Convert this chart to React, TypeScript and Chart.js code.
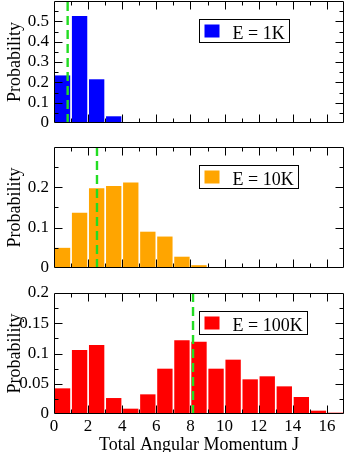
import React, { useEffect, useRef } from 'react';
import { Chart, registerables } from 'chart.js';

Chart.register(...registerables);

// ---- data ----
const angularMomentumJ = [0, 1, 2, 3, 4, 5, 6, 7, 8, 9, 10, 11, 12, 13, 14, 15, 16];
const probE1K = [0.234, 0.526, 0.215, 0.033, 0, 0, 0, 0, 0, 0, 0, 0, 0, 0, 0, 0, 0];
const probE10K = [0.05, 0.137, 0.198, 0.203, 0.212, 0.09, 0.078, 0.028, 0.007, 0, 0, 0, 0, 0, 0, 0, 0];
const probE100K = [0.0424, 0.1058, 0.114, 0.0264, 0.0088, 0.0325, 0.0749, 0.1218, 0.1196, 0.0749, 0.0898, 0.0573, 0.0623, 0.0457, 0.0281, 0.0055, 0.0022];
const meanJ = [0.8, 2.52, 8.15];
const seriesLabels = ['E = 1K', 'E = 10K', 'E = 100K'];
const seriesColors = ['#0000ff', '#ffa500', '#ff0000'];
const yMaxes = [0.6, 0.3, 0.2];
const yMajorSteps = [0.1, 0.1, 0.05];
const yMinorSteps = [0.05, 0.05, 0.025];
const xMin = 0;
const xMax = 17;
const xTickLabels = [0, 2, 4, 6, 8, 10, 12, 14, 16];
const xMajorStep = 2;
const xMinorStep = 1;
const xTitle = 'Total Angular Momentum J';
const yTitle = 'Probability';
const seriesValues = [probE1K, probE10K, probE100K];

const FONT = "'Liberation Serif', 'DejaVu Serif', serif";

const fmt = (v: number) => String(+v.toFixed(3));

const frameTicksPlugin = {
  id: 'frameTicks',
  afterDraw(chart: any, _args: any, opts: any) {
    const { ctx, chartArea: a, scales } = chart;
    const xs = scales.x;
    const ys = scales.y;
    ctx.save();
    ctx.strokeStyle = '#000';
    ctx.lineWidth = 1;
    const L = Math.round(a.left) + 0.5;
    const R = Math.round(a.right) - 0.5;
    const T = Math.round(a.top) + 0.5;
    const B = Math.round(a.bottom) - 0.5;
    ctx.beginPath();
    ctx.rect(L, T, R - L, B - T);
    ctx.stroke();
    const major = 8;
    const minor = 4;
    ctx.beginPath();
    const yMax = ys.max;
    const nY = Math.round(yMax / opts.yMinor);
    for (let i = 1; i < nY; i++) {
      const v = i * opts.yMinor;
      const isMajor = Math.abs(v / opts.yMajor - Math.round(v / opts.yMajor)) < 1e-6;
      const len = isMajor ? major : minor;
      const y = Math.round(ys.getPixelForValue(v)) + 0.5;
      ctx.moveTo(L, y); ctx.lineTo(L + len, y);
      ctx.moveTo(R, y); ctx.lineTo(R - len, y);
    }
    const nX = Math.round((xs.max - xs.min) / opts.xMinor);
    for (let i = 1; i < nX; i++) {
      const v = xs.min + i * opts.xMinor;
      const isMajor = Math.abs(v / opts.xMajor - Math.round(v / opts.xMajor)) < 1e-6;
      const len = isMajor ? major : minor;
      const x = Math.round(xs.getPixelForValue(v)) + 0.5;
      ctx.moveTo(x, B); ctx.lineTo(x, B - len);
      ctx.moveTo(x, T); ctx.lineTo(x, T + len);
    }
    ctx.stroke();

    const ds = chart.data.datasets.find((d: any) => d.showInLegend);
    if (ds) {
      ctx.font = `18px ${FONT}`;
      const tw = ctx.measureText(ds.label).width;
      const bx = Math.round(a.left + 145) + 0.5;
      const by = Math.round(a.top + 17.5) + 0.5;
      const bw = Math.round(33 + tw + 5);
      const bh = 23;
      ctx.fillStyle = '#fff';
      ctx.fillRect(bx, by, bw, bh);
      ctx.strokeStyle = '#000';
      ctx.strokeRect(bx, by, bw, bh);
      ctx.fillStyle = ds.backgroundColor;
      ctx.fillRect(bx + 5, by + 5, 15, 13);
      ctx.fillStyle = '#000';
      ctx.textBaseline = 'alphabetic';
      ctx.textAlign = 'left';
      ctx.fillText(ds.label, bx + 33, by + 19);
    }
    ctx.restore();
  },
};

type PanelProps = {
  index: number;
  height: number;
  padTop: number;
  xHeight: number;
  showX: boolean;
};

function Panel({ index, height, padTop, xHeight, showX }: PanelProps) {
  const ref = useRef<HTMLCanvasElement | null>(null);
  useEffect(() => {
    if (!ref.current) return;
    const yMax = yMaxes[index];
    const barData = angularMomentumJ.map((j, i) => ({ x: j + 0.5, y: seriesValues[index][i] }));
    const lineData = [
      { x: meanJ[index], y: 0 },
      { x: meanJ[index], y: yMax },
    ];
    const chart = new Chart(ref.current, {
      type: 'bar',
      data: {
        datasets: [
          {
            type: 'line',
            label: 'mean',
            data: lineData,
            borderColor: '#22dd22',
            borderWidth: 2.4,
            borderDash: [9, 5],
            pointRadius: 0,
            fill: false,
            order: 0,
          } as any,
          {
            type: 'bar',
            label: seriesLabels[index],
            data: barData,
            backgroundColor: seriesColors[index],
            borderWidth: 0,
            barPercentage: 0.9,
            categoryPercentage: 1,
            order: 1,
            showInLegend: true,
          } as any,
        ],
      },
      options: {
        responsive: false,
        animation: false,
        events: [],
        layout: { padding: { top: padTop, right: 2, left: 0, bottom: 0 } },
        plugins: {
          legend: { display: false },
          tooltip: { enabled: false },
          frameTicks: { yMajor: yMajorSteps[index], yMinor: yMinorSteps[index], xMajor: xMajorStep, xMinor: xMinorStep },
        } as any,
        scales: {
          x: {
            type: 'linear',
            min: xMin,
            max: xMax,
            offset: false,
            grid: { display: false, drawTicks: false },
            border: { display: false },
            ticks: {
              display: showX,
              autoSkip: false,
              padding: 2,
              color: '#000',
              font: { family: FONT, size: 17 },
              maxRotation: 0,
              callback: (v: any) => fmt(Number(v)),
            },
            afterBuildTicks: (s: any) => {
              s.ticks = xTickLabels.map((v) => ({ value: v }));
            },
            title: {
              display: showX,
              text: xTitle,
              color: '#000',
              font: { family: FONT, size: 18 },
              padding: { top: 0, bottom: -4 },
            },
            afterFit: (s: any) => {
              s.height = xHeight;
              s.paddingLeft = 0;
              s.paddingRight = 0;
            },
          },
          y: {
            type: 'linear',
            min: 0,
            max: yMax,
            grid: { display: false, drawTicks: false },
            border: { display: false },
            ticks: {
              autoSkip: false,
              stepSize: yMajorSteps[index],
              padding: 5,
              color: '#000',
              font: { family: FONT, size: 17 },
              callback: (v: any) => fmt(Number(v)),
            },
            afterBuildTicks: (s: any) => {
              if (index < 2) s.ticks = s.ticks.filter((t: any) => t.value < yMax - 1e-9);
            },
            title: {
              display: true,
              text: yTitle,
              color: '#000',
              font: { family: FONT, size: 18 },
              padding: { top: 4, bottom: 0 },
            },
            afterFit: (s: any) => {
              s.width = 54;
              s.paddingTop = 0;
              s.paddingBottom = 0;
            },
          },
        },
      },
      plugins: [frameTicksPlugin],
    });
    return () => chart.destroy();
  }, [index, height, padTop, xHeight, showX]);
  return <canvas ref={ref} width={346} height={height} style={{ display: 'block' }} />;
}

export default function App() {
  return (
    <div style={{ position: 'absolute', left: 0, top: 0, width: 346, height: 452, background: '#fff' }}>
      <Panel index={0} height={140} padTop={1} xHeight={17} showX={false} />
      <Panel index={1} height={140} padTop={7} xHeight={12} showX={false} />
      <Panel index={2} height={172} padTop={13} xHeight={38} showX={true} />
    </div>
  );
}
